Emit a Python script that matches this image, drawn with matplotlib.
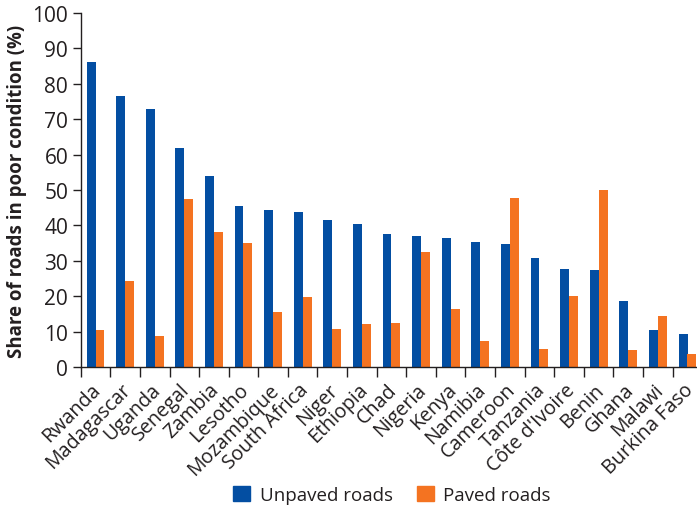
import matplotlib
matplotlib.use("Agg")
import matplotlib.pyplot as plt
import matplotlib.transforms as mtransforms
import numpy as np
from matplotlib.patches import Patch

countries = ["Rwanda", "Madagascar", "Uganda", "Senegal", "Zambia", "Lesotho",
             "Mozambique", "South Africa", "Niger", "Ethiopia", "Chad", "Nigeria",
             "Kenya", "Namibia", "Cameroon", "Tanzania", "Côte d'Ivoire", "Benin",
             "Ghana", "Malawi", "Burkina Faso"]
unpaved = [86.2, 76.6, 72.9, 61.9, 54.0, 45.5, 44.4, 43.8, 41.5, 40.4, 37.6, 37.0,
           36.4, 35.3, 34.7, 30.8, 27.7, 27.4, 18.6, 10.5, 9.3]
paved = [10.5, 24.3, 8.8, 47.5, 38.1, 35.0, 15.5, 19.8, 10.7, 12.1, 12.4, 32.5,
         16.4, 7.3, 47.7, 5.1, 20.1, 50.0, 4.8, 14.4, 3.7]
yticks = [0, 10, 20, 30, 40, 50, 60, 70, 80, 90, 100]

BLUE = "#034EA2"
ORANGE = "#F47321"
DARK = "#231F20"

plt.rcParams['font.family'] = ['Open Sans', 'DejaVu Sans']

fig = plt.figure(figsize=(6.97, 5.10), dpi=100)
ax = fig.add_axes([80.7 / 697, 142 / 510, 621.6 / 697, 354 / 510])

x = np.arange(len(countries))
w = 0.3
ax.bar(x - w / 2, unpaved, width=w, color=BLUE, label="Unpaved roads")
ax.bar(x + w / 2, paved, width=w, color=ORANGE, label="Paved roads")

ax.set_xlim(-0.5, len(countries) - 0.5)
ax.set_ylim(0, 100)
ax.set_yticks(yticks)
ax.set_yticklabels([str(t) for t in yticks], fontsize=15, color=DARK)

ax.set_xticks(x)
ax.set_xticklabels(countries, rotation=45, ha='right', va='top',
                   rotation_mode='anchor', fontsize=14.2, color=DARK)
ax.tick_params(axis='x', which='major', length=0, pad=9)
offset = mtransforms.ScaledTranslation(-4.5 / 100, 0, fig.dpi_scale_trans)
for lab in ax.get_xticklabels():
    lab.set_transform(lab.get_transform() + offset)
ax.set_xticks(np.arange(-0.5, len(countries), 1.0), minor=True)
ax.tick_params(axis='x', which='minor', length=7, width=1, color=DARK, direction='out')
ax.tick_params(axis='y', length=6, width=1, color=DARK, direction='out', pad=3)

for s in ['top', 'right']:
    ax.spines[s].set_visible(False)
for s in ['left', 'bottom']:
    ax.spines[s].set_color(DARK)
    ax.spines[s].set_linewidth(1)

ax.set_ylabel("Share of roads in poor condition (%)", fontsize=13.4,
              fontweight='bold', color=DARK, labelpad=4)

handles = [Patch(color=BLUE, label="Unpaved roads"), Patch(color=ORANGE, label="Paved roads")]
fig.legend(handles=handles, loc='center', bbox_to_anchor=(392 / 697, 1 - 496 / 510),
           ncol=2, frameon=False, fontsize=13.5, handlelength=0.9, handleheight=0.9,
           handletextpad=0.5, columnspacing=1.3, labelcolor=DARK)

fig.savefig("out.png", dpi=100)
